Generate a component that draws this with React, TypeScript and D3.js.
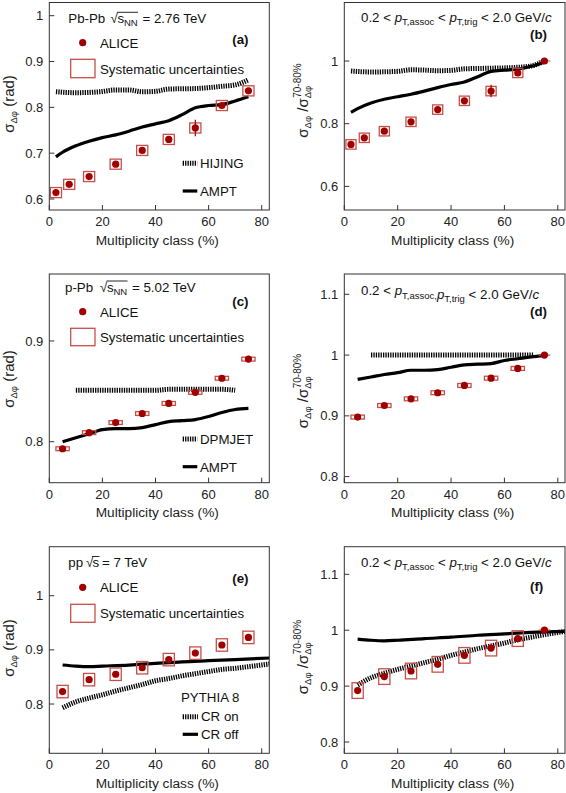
import React from "react";
import * as d3 from "d3";

// ---------------- DATA ----------------
const centPbPb = [2.5, 7.5, 15, 25, 35, 45, 55, 65, 75];
const centPPb = [5, 15, 25, 35, 45, 55, 65, 75];
const centPP = [5, 15, 25, 35, 45, 55, 65, 75];

// (a) Pb-Pb sigma
const aliceA = [0.614, 0.632, 0.649, 0.676, 0.706, 0.73, 0.755, 0.804, 0.836];
const statA = [0.004, 0.004, 0.004, 0.004, 0.004, 0.005, 0.018, 0.006, 0.006];
const hijingAx = [2.5, 10, 19, 25, 30, 35, 40, 45, 55, 60, 65, 70, 75];
const hijingAy = [0.834, 0.832, 0.834, 0.838, 0.838, 0.834, 0.835, 0.84, 0.841, 0.843, 0.846, 0.849, 0.86];
const amptAx = [2.5, 5, 10, 15, 20, 25, 30, 35, 40, 45, 50, 55, 60, 65, 70, 75];
const amptAy = [0.692, 0.702, 0.716, 0.726, 0.734, 0.74, 0.748, 0.757, 0.764, 0.771, 0.784, 0.799, 0.804, 0.806, 0.814, 0.823];

// (b) Pb-Pb ratio
const aliceB = [0.734, 0.755, 0.776, 0.806, 0.845, 0.873, 0.904, 0.962, 1.0];
const statB = [0.004, 0.004, 0.004, 0.004, 0.005, 0.006, 0.02, 0.008, 0.0];
const hijingBx = [2.5, 10, 20, 25, 30, 35, 40, 45, 55, 65, 70, 75];
const hijingBy = [0.968, 0.965, 0.967, 0.972, 0.971, 0.969, 0.97, 0.975, 0.977, 0.98, 0.984, 1.0];
const amptBx = [2.5, 5, 10, 15, 20, 25, 30, 35, 40, 45, 50, 55, 60, 65, 70, 75];
const amptBy = [0.836, 0.848, 0.866, 0.878, 0.886, 0.894, 0.904, 0.915, 0.925, 0.933, 0.95, 0.967, 0.971, 0.974, 0.983, 0.997];

// (c) p-Pb sigma
const aliceC = [0.793, 0.809, 0.819, 0.828, 0.838, 0.849, 0.863, 0.882];
const statC = [0.001, 0.001, 0.001, 0.001, 0.001, 0.001, 0.001, 0.001];
const dpmjetCx = [10, 15, 20, 25, 30, 35, 40, 45, 50, 55, 60, 65, 70];
const dpmjetCy = [0.851, 0.851, 0.851, 0.851, 0.851, 0.851, 0.851, 0.852, 0.852, 0.852, 0.852, 0.852, 0.851];
const amptCx = [5, 10, 15, 20, 25, 30, 35, 40, 45, 50, 55, 60, 65, 70, 75];
const amptCy = [0.8, 0.804, 0.808, 0.812, 0.813, 0.813, 0.814, 0.817, 0.82, 0.821, 0.822, 0.825, 0.829, 0.832, 0.833];

// (d) p-Pb ratio
const aliceD = [0.898, 0.917, 0.928, 0.938, 0.95, 0.962, 0.978, 1.0];
const statD = [0.001, 0.001, 0.001, 0.001, 0.001, 0.001, 0.001, 0.0];
const dpmjetDx = [10, 20, 30, 40, 50, 60, 71];
const dpmjetDy = [1.0, 1.0, 1.0, 1.0, 1.0, 1.0, 1.0];
const amptDx = [5, 10, 15, 20, 25, 30, 35, 40, 45, 50, 55, 60, 65, 70, 75];
const amptDy = [0.96, 0.964, 0.968, 0.971, 0.975, 0.975, 0.976, 0.98, 0.984, 0.985, 0.986, 0.991, 0.994, 0.997, 0.999];

// (e) pp sigma
const aliceE = [0.823, 0.845, 0.855, 0.867, 0.882, 0.894, 0.909, 0.923];
const statE = [0.003, 0.003, 0.003, 0.003, 0.003, 0.003, 0.003, 0.003];
const crOffEx = [5, 10, 15, 20, 30, 40, 50, 60, 70, 83];
const crOffEy = [0.872, 0.87, 0.869, 0.87, 0.872, 0.875, 0.878, 0.88, 0.882, 0.885];
const crOnEx = [5, 10, 15, 20, 25, 30, 35, 40, 45, 50, 55, 60, 65, 70, 75, 83];
const crOnEy = [0.793, 0.804, 0.811, 0.817, 0.824, 0.83, 0.836, 0.843, 0.847, 0.852, 0.856, 0.86, 0.864, 0.866, 0.869, 0.874];

// (f) pp ratio
const aliceF = [0.892, 0.917, 0.927, 0.939, 0.955, 0.968, 0.985, 1.0];
const statF = [0.002, 0.002, 0.002, 0.002, 0.002, 0.002, 0.002, 0.0];
const crOffFx = [5, 10, 15, 20, 30, 40, 50, 60, 70, 83];
const crOffFy = [0.984, 0.982, 0.981, 0.982, 0.985, 0.9875, 0.991, 0.9935, 0.996, 0.998];
const crOnFx = [5, 10, 15, 20, 25, 30, 35, 40, 45, 50, 55, 60, 65, 70, 75, 83];
const crOnFy = [0.902, 0.915, 0.923, 0.93, 0.936, 0.942, 0.948, 0.955, 0.961, 0.967, 0.972, 0.977, 0.983, 0.9875, 0.992, 0.998];

const xTicks = [0, 20, 40, 60, 80];
const yTicksA = [0.6, 0.7, 0.8, 0.9, 1];
const yTicksB = [0.6, 0.8, 1];
const yTicksC = [0.8, 0.9];
const yTicksD = [0.8, 0.9, 1, 1.1];
const yTicksE = [0.8, 0.9, 1];
const yTicksF = [0.8, 0.9, 1, 1.1];

// ---------------- STYLE ----------------
const FONT = "'Liberation Sans', Arial, Helvetica, sans-serif";
const DOT = "#a10000";
const SYST = "#c4504a";
const HATCH_W = 5;
const HATCH_DASH = "1.3 1.1";
const SOLID_W = 3.2;

type Curve = { xs: number[]; ys: number[]; hatched: boolean };
type Cfg = {
  id: string;
  left: number;
  top: number;
  bottom: number;
  width: number;
  xMax: number;
  yDomain: [number, number];
  yTicks: number[];
  px: number[];
  py: number[];
  stat: number[];
  systX: number;
  systY: number;
  ratio: boolean;
  curves: Curve[];
};

const lineGen = (x: d3.ScaleLinear<number, number>, y: d3.ScaleLinear<number, number>) =>
  d3
    .line<[number, number]>()
    .x((d) => x(d[0]))
    .y((d) => y(d[1]))
    .curve(d3.curveMonotoneX);

function Panel({ c, children }: { c: Cfg; children?: React.ReactNode }) {
  const x = d3.scaleLinear().domain([0, c.xMax]).range([c.left, c.left + c.width]);
  const y = d3.scaleLinear().domain(c.yDomain).range([c.bottom, c.top]);
  const lg = lineGen(x, y);
  const h = c.bottom - c.top;
  return (
    <g>
      <defs>
        <clipPath id={"clip-" + c.id}>
          <rect x={c.left} y={c.top} width={c.width} height={h} />
        </clipPath>
      </defs>
      <g clipPath={`url(#clip-${c.id})`}>
        {c.curves.map((cv, i) => (
          <path
            key={i}
            d={lg(cv.xs.map((xx, j) => [xx, cv.ys[j]] as [number, number])) || ""}
            fill="none"
            stroke="#000"
            strokeWidth={cv.hatched ? HATCH_W : SOLID_W}
            strokeDasharray={cv.hatched ? HATCH_DASH : undefined}
          />
        ))}
        {c.px.map((xx, i) => {
          const v = c.py[i];
          const isRef = c.ratio && v === 1.0 && xx === 75;
          return (
            <g key={"p" + i}>
              {!isRef && (
                <rect
                  x={x(xx - c.systX)}
                  y={y(v + c.systY)}
                  width={x(xx + c.systX) - x(xx - c.systX)}
                  height={y(v - c.systY) - y(v + c.systY)}
                  fill="none"
                  stroke={SYST}
                  strokeWidth={1.3}
                />
              )}
              {isRef && (
                <line x1={x(xx - 2.2)} x2={x(xx + 2.2)} y1={y(v)} y2={y(v)} stroke={SYST} strokeWidth={1.2} />
              )}
              {c.stat[i] > 0 && (
                <line x1={x(xx)} x2={x(xx)} y1={y(v - c.stat[i])} y2={y(v + c.stat[i])} stroke={DOT} strokeWidth={1.2} />
              )}
              <circle cx={x(xx)} cy={y(v)} r={3.6} fill={DOT} />
            </g>
          );
        })}
      </g>
      <rect x={c.left} y={c.top} width={c.width} height={h} fill="none" stroke="#333" strokeWidth={1} />
      {xTicks.map((t) => (
        <g key={"xt" + t}>
          <line x1={x(t)} x2={x(t)} y1={c.bottom} y2={c.bottom - 5} stroke="#333" strokeWidth={1} />
          <text x={x(t)} y={c.bottom + 16} textAnchor="middle" fontSize={13} fill="#222">
            {String(t)}
          </text>
        </g>
      ))}
      {c.yTicks.map((t) => (
        <g key={"yt" + t}>
          <line x1={c.left} x2={c.left + 5} y1={y(t)} y2={y(t)} stroke="#333" strokeWidth={1} />
          <text x={c.left - 6} y={y(t)} dy="0.35em" textAnchor="end" fontSize={13} fill="#222">
            {String(t)}
          </text>
        </g>
      ))}
      <text x={c.left + c.width / 2 - 2} y={c.bottom + 34.5} textAnchor="middle" fontSize={13.7} fill="#222">
        Multiplicity class (%)
      </text>
      {children}
    </g>
  );
}

function SigmaTitle({ cx, cy }: { cx: number; cy: number }) {
  return (
    <g transform={`translate(${cx},${cy}) rotate(-90)`}>
      <text textAnchor="middle" fontSize={15} fill="#222">
        σ
        <tspan fontSize={9.5} dy={3}>
          Δφ
        </tspan>
        <tspan dy={-3}> (rad)</tspan>
      </text>
    </g>
  );
}

function RatioTitle({ cx, cy }: { cx: number; cy: number }) {
  return (
    <g transform={`translate(${cx},${cy}) rotate(-90)`}>
      <text textAnchor="middle" fontSize={15} fill="#222">
        σ
        <tspan fontSize={9.5} dy={3}>
          Δφ
        </tspan>
        <tspan dy={-3}> /σ</tspan>
        <tspan fontSize={9.5} dy={3}>
          Δφ
        </tspan>
        <tspan fontSize={10} dx={-12} dy={-10.5}>
          70-80%
        </tspan>
      </text>
    </g>
  );
}

function PtText({ x, y, comma }: { x: number; y: number; comma: boolean }) {
  return (
    <text x={x} y={y} fontSize={13.3} fill="#111">
      {"0.2 < "}
      <tspan fontStyle="italic">p</tspan>
      <tspan fontSize={9.5} dy={3.5}>
        {comma ? "T,assoc," : "T,assoc"}
      </tspan>
      <tspan dy={-3.5}>{comma ? "" : " < "}</tspan>
      <tspan fontStyle="italic">p</tspan>
      <tspan fontSize={9.5} dy={3.5}>
        T,trig
      </tspan>
      <tspan dy={-3.5}>{" < 2.0 GeV/"}</tspan>
      <tspan fontStyle="italic">c</tspan>
    </text>
  );
}

function AliceLegend({ dotY, textY, boxY0, boxY1, sysY }: { dotY: number; textY: number; boxY0: number; boxY1: number; sysY: number }) {
  return (
    <g fontSize={13.3} fill="#111">
      <circle cx={82.7} cy={dotY} r={3.6} fill={DOT} />
      <text x={100} y={textY}>ALICE</text>
      <rect x={70.7} y={boxY0} width={24.3} height={boxY1 - boxY0} fill="none" stroke={SYST} strokeWidth={1.3} />
      <text x={100} y={sysY}>Systematic uncertainties</text>
    </g>
  );
}

function ModelLegend({ lx0, lx1, tx, items }: { lx0: number; lx1: number; tx: number; items: { label: string; y: number; ty: number; hatched: boolean }[] }) {
  return (
    <g fontSize={13.3} fill="#111">
      {items.map((it) => (
        <g key={it.label}>
          <line
            x1={lx0}
            x2={lx1}
            y1={it.y}
            y2={it.y}
            stroke="#000"
            strokeWidth={it.hatched ? HATCH_W : SOLID_W}
            strokeDasharray={it.hatched ? HATCH_DASH : undefined}
          />
          <text x={tx} y={it.ty}>
            {it.label}
          </text>
        </g>
      ))}
    </g>
  );
}

const LX = 49.3;
const RX = 344.3;
const LW = 220;
const RW = 220.7;
const LXMAX = 82.86;
const RXMAX = 82.7;

export default function App() {
  const cfgA: Cfg = {
    id: "a", left: LX, top: 2.5, bottom: 210, width: LW, xMax: LXMAX,
    yDomain: [0.576, 1.0288], yTicks: yTicksA,
    px: centPbPb, py: aliceA, stat: statA, systX: 2.1, systY: 0.011, ratio: false,
    curves: [
      { xs: hijingAx, ys: hijingAy, hatched: true },
      { xs: amptAx, ys: amptAy, hatched: false },
    ],
  };
  const cfgB: Cfg = {
    id: "b", left: RX, top: 2.5, bottom: 210, width: RW, xMax: RXMAX,
    yDomain: [0.5247, 1.1866], yTicks: yTicksB,
    px: centPbPb, py: aliceB, stat: statB, systX: 1.9, systY: 0.015, ratio: true,
    curves: [
      { xs: hijingBx, ys: hijingBy, hatched: true },
      { xs: amptBx, ys: amptBy, hatched: false },
    ],
  };
  const cfgC: Cfg = {
    id: "c", left: LX, top: 274, bottom: 482.7, width: LW, xMax: LXMAX,
    yDomain: [0.7593, 0.9665], yTicks: yTicksC,
    px: centPPb, py: aliceC, stat: statC, systX: 2.5, systY: 0.0019, ratio: false,
    curves: [
      { xs: dpmjetCx, ys: dpmjetCy, hatched: true },
      { xs: amptCx, ys: amptCy, hatched: false },
    ],
  };
  const cfgD: Cfg = {
    id: "d", left: RX, top: 274, bottom: 482.7, width: RW, xMax: RXMAX,
    yDomain: [0.79, 1.1334], yTicks: yTicksD,
    px: centPPb, py: aliceD, stat: statD, systX: 2.5, systY: 0.0032, ratio: true,
    curves: [
      { xs: dpmjetDx, ys: dpmjetDy, hatched: true },
      { xs: amptDx, ys: amptDy, hatched: false },
    ],
  };
  const cfgE: Cfg = {
    id: "e", left: LX, top: 546.7, bottom: 753.3, width: LW, xMax: LXMAX,
    yDomain: [0.709, 1.0905], yTicks: yTicksE,
    px: centPP, py: aliceE, stat: statE, systX: 2.1, systY: 0.0115, ratio: false,
    curves: [
      { xs: crOnEx, ys: crOnEy, hatched: true },
      { xs: crOffEx, ys: crOffEy, hatched: false },
    ],
  };
  const cfgF: Cfg = {
    id: "f", left: RX, top: 546.7, bottom: 753.3, width: RW, xMax: RXMAX,
    yDomain: [0.7798, 1.1494], yTicks: yTicksF,
    px: centPP, py: aliceF, stat: statF, systX: 2.1, systY: 0.014, ratio: true,
    curves: [
      { xs: crOnFx, ys: crOnFy, hatched: true },
      { xs: crOffFx, ys: crOffFy, hatched: false },
    ],
  };

  return (
    <svg
      width={566}
      height={793}
      style={{ position: "absolute", left: 0, top: 0, background: "#fff" }}
      fontFamily={FONT}
    >
      <rect x={0} y={0} width={566} height={793} fill="#fff" />

      {/* (a) */}
      <Panel c={cfgA}>
        <g fontSize={13.3} fill="#111">
          <text x={68.3} y={23}>Pb-Pb</text>
          <text x={110.5} y={23}>√</text>
          <text x={117.5} y={23}>s</text>
          <text x={124} y={26} fontSize={9.5}>NN</text>
          <line x1={117} x2={138} y1={12.3} y2={12.3} stroke="#111" strokeWidth={0.9} />
          <text x={142.5} y={23}>= 2.76 TeV</text>
          <text x={232.3} y={44.3} fontWeight="bold">(a)</text>
        </g>
        <AliceLegend dotY={42.7} textY={48} boxY0={59.3} boxY1={77.7} sysY={74} />
        <ModelLegend
          lx0={182.7}
          lx1={197.3}
          tx={200}
          items={[
            { label: "HIJING", y: 163.3, ty: 168.3, hatched: true },
            { label: "AMPT", y: 191, ty: 196, hatched: false },
          ]}
        />
      </Panel>
      <SigmaTitle cx={13.5} cy={104} />

      {/* (b) */}
      <Panel c={cfgB}>
        <PtText x={361} y={21.7} comma={false} />
        <text x={530} y={38.5} fontSize={13.3} fontWeight="bold" fill="#111">(b)</text>
      </Panel>
      <RatioTitle cx={308} cy={100.5} />

      {/* (c) */}
      <Panel c={cfgC}>
        <g fontSize={13.3} fill="#111">
          <text x={65} y={291.7}>p-Pb</text>
          <text x={100} y={291.7}>√</text>
          <text x={107} y={291.7}>s</text>
          <text x={113.5} y={294.7} fontSize={9.5}>NN</text>
          <line x1={106.5} x2={127.5} y1={281} y2={281} stroke="#111" strokeWidth={0.9} />
          <text x={132} y={291.7}>= 5.02 TeV</text>
          <text x={232.3} y={306} fontWeight="bold">(c)</text>
        </g>
        <AliceLegend dotY={311.7} textY={316.7} boxY0={328.3} boxY1={345.7} sysY={342.3} />
        <ModelLegend
          lx0={182.7}
          lx1={197.3}
          tx={200}
          items={[
            { label: "DPMJET", y: 439, ty: 444.3, hatched: true },
            { label: "AMPT", y: 466.7, ty: 472, hatched: false },
          ]}
        />
      </Panel>
      <SigmaTitle cx={13.5} cy={379} />

      {/* (d) */}
      <Panel c={cfgD}>
        <PtText x={361} y={295} comma={true} />
        <text x={530} y={316} fontSize={13.3} fontWeight="bold" fill="#111">(d)</text>
      </Panel>
      <RatioTitle cx={308} cy={391} />

      {/* (e) */}
      <Panel c={cfgE}>
        <g fontSize={13.3} fill="#111">
          <text x={68.3} y={567}>pp</text>
          <text x={86} y={567}>√</text>
          <text x={92.5} y={567}>s</text>
          <line x1={92} x2={99.5} y1={556.5} y2={556.5} stroke="#111" strokeWidth={0.9} />
          <text x={102} y={567}>= 7 TeV</text>
          <text x={232.3} y={583} fontWeight="bold">(e)</text>
        </g>
        <AliceLegend dotY={587.3} textY={591.7} boxY0={604.3} boxY1={622.3} sysY={618.3} />
        <text x={181} y={702.3} fontSize={13.3} fill="#111">PYTHIA 8</text>
        <ModelLegend
          lx0={182.7}
          lx1={198}
          tx={201}
          items={[
            { label: "CR on", y: 716.7, ty: 721.3, hatched: true },
            { label: "CR off", y: 734.3, ty: 739.3, hatched: false },
          ]}
        />
      </Panel>
      <SigmaTitle cx={13.5} cy={648} />

      {/* (f) */}
      <Panel c={cfgF}>
        <PtText x={361} y={566.7} comma={false} />
        <text x={530} y={591} fontSize={13.3} fontWeight="bold" fill="#111">(f)</text>
      </Panel>
      <RatioTitle cx={308} cy={657} />
    </svg>
  );
}
